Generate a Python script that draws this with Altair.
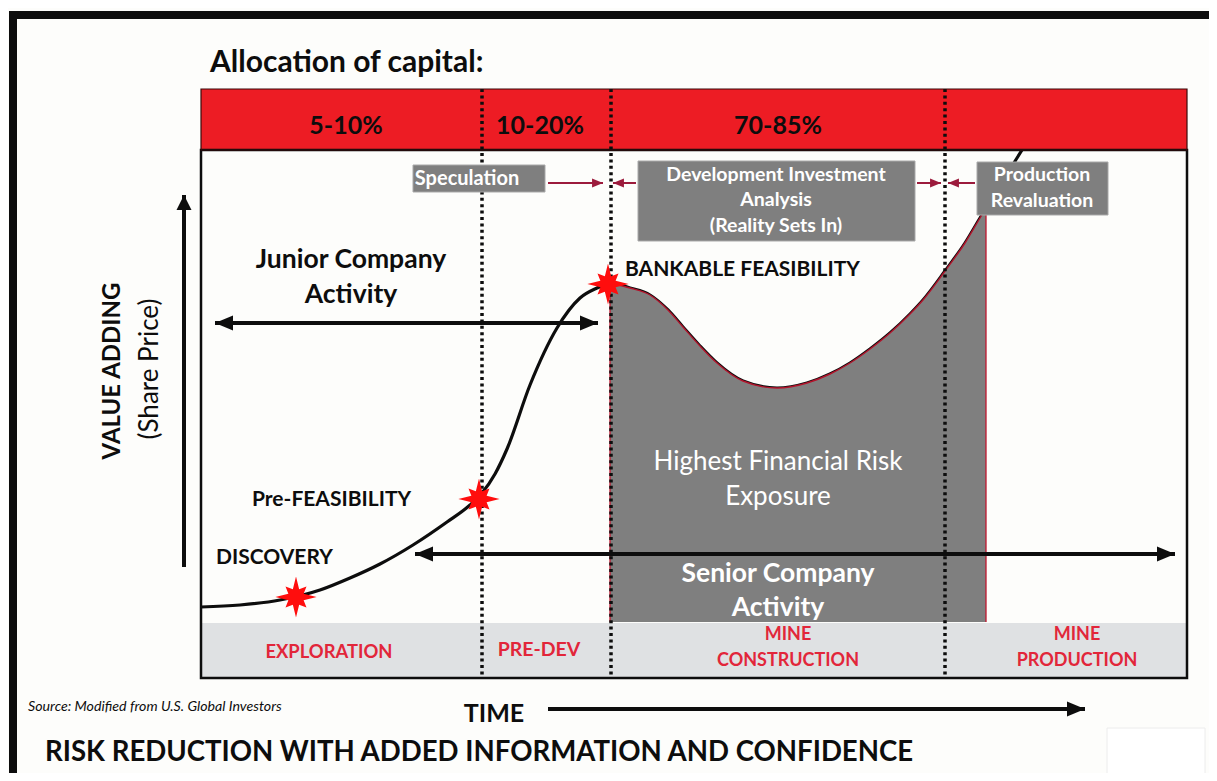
import math
import altair as alt
import pandas as pd

# ---------------- diagram frame (units = reference pixels) ----------------
X_DOMAIN = [8, 1209]
Y_DOMAIN = [8, 773]

# value-adding curve (time, share-price position)
curve_t = [201, 240, 280, 320, 350, 380, 413, 447, 470, 482, 495, 507, 530, 557, 580,
           597, 610, 630, 650, 668, 683, 700, 717, 743, 777,
           807, 830, 850, 870, 890, 910, 923, 945, 965, 980, 986, 1000, 1012, 1022]
curve_v = [607, 605, 600, 590, 578, 564, 545, 522, 505, 493, 474, 449, 385, 328, 298,
           288, 283, 288, 295, 310, 327, 346, 363, 381, 388,
           383, 374, 363, 349, 333, 314, 300, 271, 243, 218, 208, 185, 166, 150]
risk_start, risk_end, risk_floor = 610, 986, 622

# phases
phase_bounds = [482, 611, 945]
frame_x = [201, 1187]
capital_band_y = [89, 150]
frame_y = [150, 678]
stage_band_y = [623, 677]

capital_labels = ["5-10%", "10-20%", "70-85%"]
capital_x = [346, 540, 778]
capital_y = [126, 126, 126]

stage_labels = ["EXPLORATION", "PRE-DEV", "MINE", "CONSTRUCTION", "MINE", "PRODUCTION"]
stage_x = [329, 539, 788, 788, 1077, 1077]
stage_y = [652, 650, 635, 661, 635, 661]

# milestones
milestone_names = ["DISCOVERY", "Pre-FEASIBILITY", "BANKABLE FEASIBILITY"]
milestone_t = [296, 479, 608]
milestone_v = [597, 499, 284]
milestone_label_x = [216, 252, 625]
milestone_label_y = [558, 500, 270]

# grey valuation boxes
box_x1 = [413, 638, 977]
box_x2 = [545, 915, 1108]
box_y1 = [165, 161, 162]
box_y2 = [192, 241, 215]
box_lines = ["Speculation", "Development Investment", "Analysis", "(Reality Sets In)",
             "Production", "Revaluation"]
box_line_x = [467, 776, 776, 776, 1042, 1042]
box_line_y = [179, 175, 200, 226, 175, 201]

# small red arrows between boxes (start, tip, y)
red_arrow_start = [548, 636, 917, 975]
red_arrow_tip = [603, 613, 941, 948]
red_arrow_y = [183, 183, 183, 183]

# black arrows
junior_arrow = [215, 598, 323]
senior_arrow = [415, 1175, 554]
value_arrow = [184, 567, 195]
time_arrow = [548, 1085, 709]

# ---------------- styles ----------------
FONT = "Lato"
BLACK = "#0d0d0d"
RED_BAND = "#ed1c24"
STAGE_RED = "#e2263a"
GREY = "#7f7f7f"
LIGHT = "#dfe1e3"
CRIMSON = "#9c1b3c"

xs = alt.Scale(domain=X_DOMAIN, nice=False, zero=False)
ys = alt.Scale(domain=Y_DOMAIN, nice=False, zero=False, reverse=True)


def X(f):
    return alt.X(f, type="quantitative", scale=xs, axis=None)


def Y(f):
    return alt.Y(f, type="quantitative", scale=ys, axis=None)


def star_path():
    pts = []
    for k in range(16):
        a = math.pi * k / 8 - math.pi / 2
        if k % 2 == 1:
            r = 0.4
        elif k % 4 == 0:
            r = 1.0
        else:
            r = 0.72
        pts.append(f"{r * math.cos(a):.3f},{r * math.sin(a):.3f}")
    return "M" + "L".join(pts) + "Z"


HEAD_RIGHT = "M0,0L-1,-0.42L-1,0.42Z"
HEAD_LEFT = "M0,0L1,-0.42L1,0.42Z"
HEAD_UP = "M0,0L-0.5,1L0.5,1Z"

# ---------------- tables ----------------
curve = pd.DataFrame({"t": curve_t, "v": curve_v})
risk = curve[(curve.t >= risk_start) & (curve.t <= risk_end)].copy()
risk["floor"] = risk_floor

rects = pd.DataFrame({
    "x1": [9, 9, frame_x[0], frame_x[0] + 1],
    "x2": [1217, 17, frame_x[1], frame_x[1] - 1],
    "y1": [11, 11, capital_band_y[0], stage_band_y[0]],
    "y2": [19, 781, capital_band_y[1], stage_band_y[1]],
    "c": [BLACK, BLACK, RED_BAND, LIGHT],
})

bg_rects = alt.Chart(rects).mark_rect().encode(
    x=X("x1"), x2="x2", y=Y("y1"), y2="y2",
    color=alt.Color("c:N", scale=None))

frame_df = pd.DataFrame({"x1": [frame_x[0]], "x2": [frame_x[1]],
                         "y1": [frame_y[0]], "y2": [frame_y[1]]})
frame = alt.Chart(frame_df).mark_rect(fillOpacity=0, stroke=BLACK, strokeWidth=2.5).encode(
    x=X("x1"), x2="x2", y=Y("y1"), y2="y2")
band_edge = alt.Chart(pd.DataFrame({"x1": [frame_x[0]], "x2": [frame_x[1]],
                                    "y1": [capital_band_y[0]], "y2": [capital_band_y[1]]})
                      ).mark_rect(fillOpacity=0, stroke="#3a0b0b", strokeWidth=1.2).encode(
    x=X("x1"), x2="x2", y=Y("y1"), y2="y2")

corner_box = alt.Chart(pd.DataFrame({"x1": [1107], "x2": [1205], "y1": [728], "y2": [781]})
                       ).mark_rect(fill="#ffffff", stroke="#ececec", strokeWidth=1).encode(
    x=X("x1"), x2="x2", y=Y("y1"), y2="y2")

curve_line = alt.Chart(curve).mark_line(interpolate="monotone", color=BLACK, strokeWidth=3.2).encode(
    x=X("t"), y=Y("v"))
risk_area = alt.Chart(risk).mark_area(interpolate="monotone", color=GREY, opacity=1).encode(
    x=X("t"), y=Y("v"), y2="floor")
risk_edge = alt.Chart(risk).mark_line(interpolate="monotone", color="#b3142c", strokeWidth=1.4).encode(
    x=X("t"), y=Y("v"))
risk_side = alt.Chart(pd.DataFrame({"x": [risk_start, risk_end],
                                    "y1": [curve_v[curve_t.index(risk_start)], curve_v[curve_t.index(risk_end)]],
                                    "y2": [risk_floor, risk_floor]})).mark_rule(color="#c0162e", strokeWidth=1.3).encode(
    x=X("x"), y=Y("y1"), y2="y2")

dots = alt.Chart(pd.DataFrame({"x": phase_bounds, "y1": [capital_band_y[0]] * 3,
                               "y2": [frame_y[1] + 1] * 3})).mark_rule(
    color=BLACK, strokeWidth=3.5, strokeDash=[3, 3.4]).encode(x=X("x"), y=Y("y1"), y2="y2")

boxes = alt.Chart(pd.DataFrame({"x1": box_x1, "x2": box_x2, "y1": box_y1, "y2": box_y2})).mark_rect(
    fill=GREY, stroke="#a9a9a9", strokeWidth=1).encode(x=X("x1"), x2="x2", y=Y("y1"), y2="y2")

# red arrows
red_df = pd.DataFrame({"x1": red_arrow_start, "x2": red_arrow_tip, "y": red_arrow_y})
red_shafts = alt.Chart(red_df).mark_rule(color=CRIMSON, strokeWidth=2).encode(x=X("x1"), x2="x2", y=Y("y"))
red_heads_r = alt.Chart(red_df.iloc[[0, 2]]).mark_point(
    shape=HEAD_RIGHT, size=480, filled=True, color=CRIMSON, opacity=1).encode(x=X("x2"), y=Y("y"))
red_heads_l = alt.Chart(red_df.iloc[[1, 3]]).mark_point(
    shape=HEAD_LEFT, size=480, filled=True, color=CRIMSON, opacity=1).encode(x=X("x2"), y=Y("y"))

# black arrows
h_df = pd.DataFrame({"x1": [junior_arrow[0], senior_arrow[0], time_arrow[0]],
                     "x2": [junior_arrow[1], senior_arrow[1], time_arrow[1]],
                     "y": [junior_arrow[2], senior_arrow[2], time_arrow[2]]})
h_shafts = alt.Chart(h_df).mark_rule(color=BLACK, strokeWidth=4).encode(x=X("x1"), x2="x2", y=Y("y"))
h_heads_r = alt.Chart(h_df).mark_point(shape=HEAD_RIGHT, size=1300, filled=True, color=BLACK,
                                       opacity=1).encode(x=X("x2"), y=Y("y"))
h_heads_l = alt.Chart(h_df.iloc[[0, 1]]).mark_point(shape=HEAD_LEFT, size=1300, filled=True, color=BLACK,
                                                    opacity=1).encode(x=X("x1"), y=Y("y"))
v_df = pd.DataFrame({"x": [value_arrow[0]], "y1": [value_arrow[1]], "y2": [value_arrow[2]]})
v_shaft = alt.Chart(v_df).mark_rule(color=BLACK, strokeWidth=4).encode(x=X("x"), y=Y("y1"), y2="y2")
v_head = alt.Chart(v_df).mark_point(shape=HEAD_UP, size=900, filled=True, color=BLACK,
                                    opacity=1).encode(x=X("x"), y=Y("y2"))

stars = alt.Chart(pd.DataFrame({"t": milestone_t, "v": milestone_v})).mark_point(
    shape=star_path(), size=1700, filled=True, color="#ff0d0d", opacity=1).encode(x=X("t"), y=Y("v"))


def text_layer(texts, xv, yv, size, color=BLACK, weight="bold", align="center", italic=False, angle=0):
    kw = dict(font=FONT, fontSize=size, fontWeight=weight, color=color, align=align, baseline="middle")
    if italic:
        kw["fontStyle"] = "italic"
    if angle:
        kw["angle"] = angle
    return alt.Chart(pd.DataFrame({"x": xv, "y": yv, "s": texts})).mark_text(**kw).encode(
        x=X("x"), y=Y("y"), text="s:N")


texts = [
    text_layer(["Allocation of capital:"], [210], [63], 30, align="left"),
    text_layer(capital_labels, capital_x, capital_y, 25),
    text_layer(box_lines[:1], box_line_x[:1], box_line_y[:1], 20, color="#ffffff"),
    text_layer(box_lines[1:], box_line_x[1:], box_line_y[1:], 19.5, color="#ffffff"),
    text_layer(milestone_names, milestone_label_x, milestone_label_y, 21, align="left"),
    text_layer(["Junior Company", "Activity"], [351, 351], [260, 295], 26.5),
    text_layer(["Highest Financial Risk", "Exposure"], [778, 778], [462, 497], 26,
               color="#ffffff", weight="normal"),
    text_layer(["Senior Company", "Activity"], [778, 778], [574, 608], 26.5, color="#ffffff"),
    text_layer(stage_labels[:1], stage_x[:1], stage_y[:1], 18.4, color=STAGE_RED),
    text_layer(stage_labels[1:2], stage_x[1:2], stage_y[1:2], 19.5, color=STAGE_RED),
    text_layer(stage_labels[2:], stage_x[2:], stage_y[2:], 18, color=STAGE_RED),
    text_layer(["VALUE ADDING"], [113], [371], 24, angle=270),
    text_layer(["(Share Price)"], [150], [369], 26, weight="normal", angle=270),
    text_layer(["Source: Modified from U.S. Global Investors"], [28], [707], 14.2,
               weight="normal", align="left", italic=True),
    text_layer(["TIME"], [494], [714], 25),
    text_layer(["RISK REDUCTION WITH ADDED INFORMATION AND CONFIDENCE"], [45], [753], 27.6, align="left"),
]

chart = alt.layer(
    bg_rects, corner_box, curve_line, risk_area, risk_edge, risk_side, dots, frame, band_edge,
    boxes, red_shafts, red_heads_r, red_heads_l, h_shafts, h_heads_r, h_heads_l, v_shaft, v_head,
    stars, *texts
).properties(
    width=1201, height=765, padding=0,
    autosize=alt.AutoSizeParams(type="none"),
    background="#fdfdfb",
).configure_view(stroke=None)

chart.save("out.html", embed_options={"renderer": "svg", "actions": False})
